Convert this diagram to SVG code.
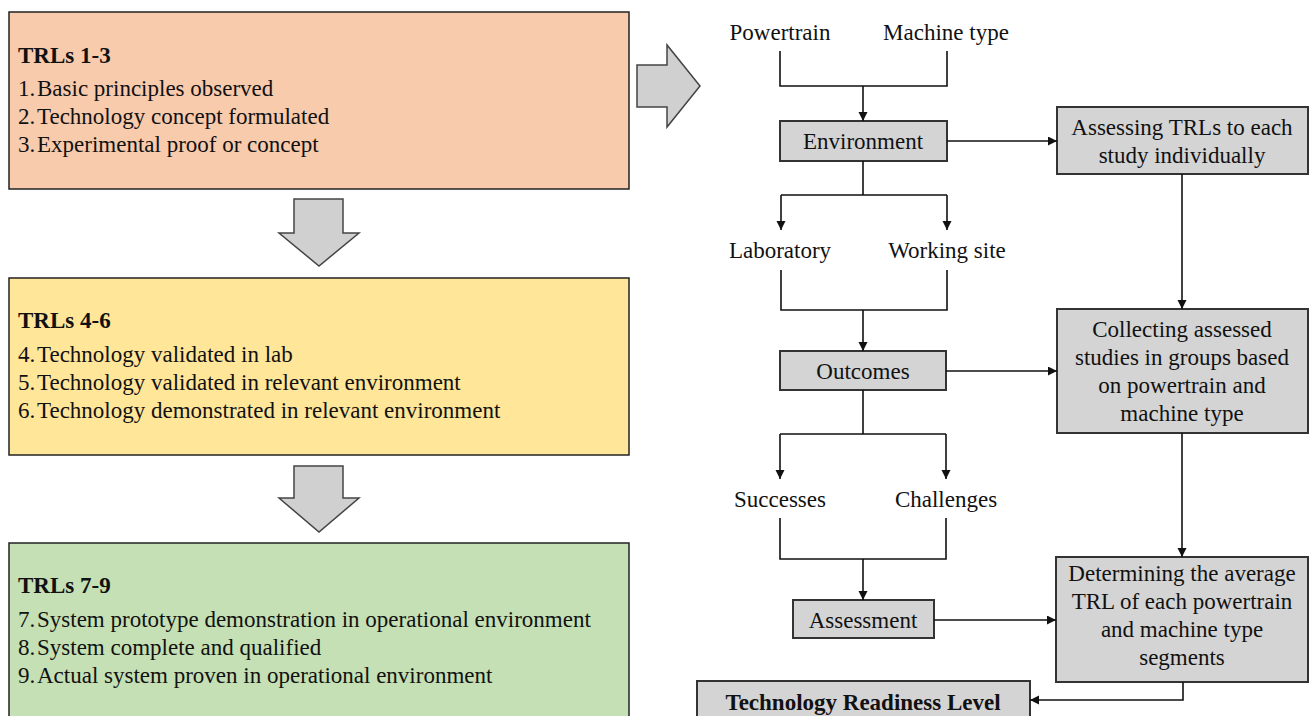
<svg xmlns="http://www.w3.org/2000/svg" width="1311" height="716" viewBox="0 0 1311 716">
<style>
text{font-family:"Liberation Serif","Times New Roman",serif;font-size:23px;fill:#111}
.h{font-weight:bold}
.c{text-anchor:middle}
.big{fill-rule:nonzero;fill:#D0D0D0;stroke:#444;stroke-width:1.5}
.gbox{fill:#D4D4D4;stroke:#333;stroke-width:2}
.ln{fill:none;stroke:#111;stroke-width:1.6}
</style>
<defs>
<marker id="ah" markerUnits="userSpaceOnUse" markerWidth="10" markerHeight="10" refX="9" refY="4.5" orient="auto">
<path d="M0,0 L9,4.5 L0,9 Z" fill="#111"/>
</marker>
</defs>
<rect width="1311" height="716" fill="#fff"/>

<g id="trl13">
<rect x="9" y="12" width="620" height="177" fill="#F8CBAD" stroke="#222" stroke-width="1.5"/>
<text class="h" x="18" y="63">TRLs 1-3</text>
<text y="96"><tspan x="18">1.</tspan><tspan x="37">Basic principles observed</tspan></text>
<text y="124"><tspan x="18">2.</tspan><tspan x="37">Technology concept formulated</tspan></text>
<text y="152"><tspan x="18">3.</tspan><tspan x="37">Experimental proof or concept</tspan></text>
</g>

<g id="trl46">
<rect x="9" y="278" width="620" height="177" fill="#FFE699" stroke="#222" stroke-width="1.5"/>
<text class="h" x="18" y="328">TRLs 4-6</text>
<text y="362"><tspan x="18">4.</tspan><tspan x="37">Technology validated in lab</tspan></text>
<text y="390"><tspan x="18">5.</tspan><tspan x="37">Technology validated in relevant environment</tspan></text>
<text y="418"><tspan x="18">6.</tspan><tspan x="37">Technology demonstrated in relevant environment</tspan></text>
</g>

<g id="trl79">
<rect x="9" y="543" width="620" height="190" fill="#C5E0B4" stroke="#222" stroke-width="1.5"/>
<text class="h" x="18" y="593">TRLs 7-9</text>
<text y="627"><tspan x="18">7.</tspan><tspan x="37">System prototype demonstration in operational environment</tspan></text>
<text y="655"><tspan x="18">8.</tspan><tspan x="37">System complete and qualified</tspan></text>
<text y="683"><tspan x="18">9.</tspan><tspan x="37">Actual system proven in operational environment</tspan></text>
</g>

<g id="bigArrows">
<polygon class="big" points="637,65 667,65 667,45 700,86 667,127 667,107 637,107"/>
<polygon class="big" points="294,199 343,199 343,233 359,233 319,266 279,233 294,233"/>
<polygon class="big" points="294,466 343,466 343,498 359,498 319,532 279,498 294,498"/>
</g>

<g id="labels">
<text class="c" x="780" y="40">Powertrain</text>
<text class="c" x="946" y="40">Machine type</text>
<text class="c" x="780" y="258">Laboratory</text>
<text class="c" x="947" y="258">Working site</text>
<text class="c" x="780" y="507">Successes</text>
<text class="c" x="946" y="507">Challenges</text>
</g>

<g id="environment">
<rect class="gbox" x="780" y="121" width="167" height="40"/>
<text class="c" x="863" y="149">Environment</text>
</g>
<g id="outcomes">
<rect class="gbox" x="780" y="351" width="166" height="39"/>
<text class="c" x="863" y="379">Outcomes</text>
</g>
<g id="assessment">
<rect class="gbox" x="793" y="600" width="141" height="38"/>
<text class="c" x="863" y="628">Assessment</text>
</g>
<g id="assessing">
<rect class="gbox" x="1057" y="107" width="251" height="67"/>
<text class="c" x="1182" y="135">Assessing TRLs to each</text>
<text class="c" x="1182" y="163">study individually</text>
</g>
<g id="collecting">
<rect class="gbox" x="1057" y="309" width="251" height="124"/>
<text class="c" x="1182" y="337">Collecting assessed</text>
<text class="c" x="1182" y="365">studies in groups based</text>
<text class="c" x="1182" y="393">on powertrain and</text>
<text class="c" x="1182" y="421">machine type</text>
</g>
<g id="determining">
<rect class="gbox" x="1056" y="557" width="252" height="125"/>
<text class="c" x="1182" y="581">Determining the average</text>
<text class="c" x="1182" y="609">TRL of each powertrain</text>
<text class="c" x="1182" y="637">and machine type</text>
<text class="c" x="1182" y="665">segments</text>
</g>
<g id="trl">
<rect class="gbox" x="697" y="681" width="333" height="50"/>
<text class="c h" x="863" y="710">Technology Readiness Level</text>
</g>

<g id="connectors">
<path class="ln" d="M780,51 V86 H947 V51"/>
<path class="ln" d="M863,86 V121" marker-end="url(#ah)"/>
<path class="ln" d="M947,141 H1057" marker-end="url(#ah)"/>
<path class="ln" d="M863,161 V195 M781,195 H947"/>
<path class="ln" d="M781,195 V230" marker-end="url(#ah)"/>
<path class="ln" d="M947,195 V230" marker-end="url(#ah)"/>
<path class="ln" d="M781,270 V310 H947 V270"/>
<path class="ln" d="M863,310 V351" marker-end="url(#ah)"/>
<path class="ln" d="M946,371 H1057" marker-end="url(#ah)"/>
<path class="ln" d="M1182,174 V309" marker-end="url(#ah)"/>
<path class="ln" d="M863,390 V434 M780,434 H946"/>
<path class="ln" d="M780,434 V479" marker-end="url(#ah)"/>
<path class="ln" d="M946,434 V479" marker-end="url(#ah)"/>
<path class="ln" d="M780,518 V559 H946 V518"/>
<path class="ln" d="M863,559 V600" marker-end="url(#ah)"/>
<path class="ln" d="M934,620 H1056" marker-end="url(#ah)"/>
<path class="ln" d="M1182,433 V557" marker-end="url(#ah)"/>
<path class="ln" d="M1183,682 V700 H1030" marker-end="url(#ah)"/>
</g>
</svg>
